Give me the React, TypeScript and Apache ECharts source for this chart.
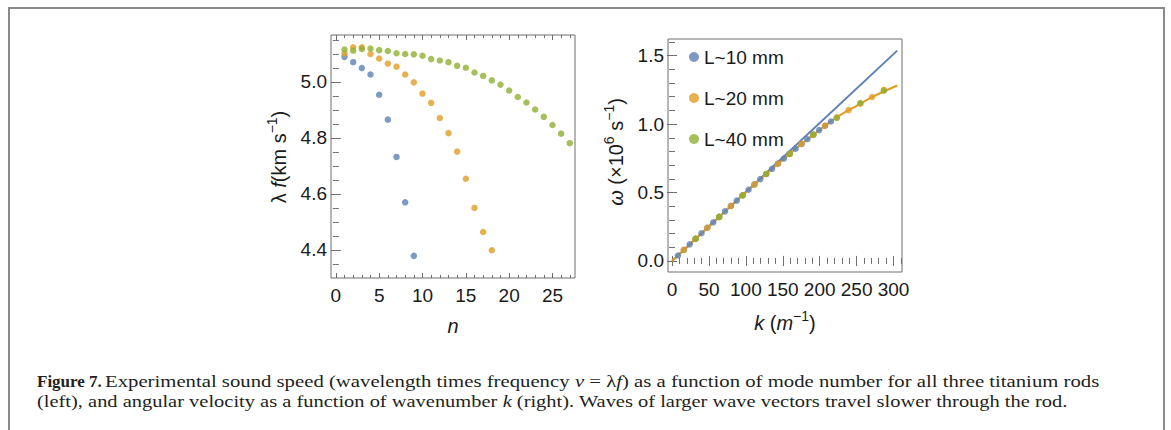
import React, { useEffect, useRef } from "react";
import * as echarts from "echarts";

// ---------- Left panel: λf vs mode number n ----------
const nBlue = [1, 2, 3, 4, 5, 6, 7, 8, 9];
const vBlue = [5.089, 5.07, 5.049, 5.026, 4.954, 4.865, 4.732, 4.57, 4.379];
const nOrange = [1, 2, 3, 4, 5, 6, 7, 8, 9, 10, 11, 12, 13, 14, 15, 16, 17, 18];
const vOrange = [5.101, 5.123, 5.123, 5.099, 5.083, 5.065, 5.054, 5.026, 4.998, 4.958, 4.925, 4.871, 4.817, 4.751, 4.654, 4.55, 4.464, 4.399];
const nGreen = [1, 2, 3, 4, 5, 6, 7, 8, 9, 10, 11, 12, 13, 14, 15, 16, 17, 18, 19, 20, 21, 22, 23, 24, 25, 26, 27];
const vGreen = [5.115, 5.111, 5.117, 5.119, 5.113, 5.11, 5.102, 5.099, 5.098, 5.093, 5.081, 5.076, 5.07, 5.057, 5.05, 5.033, 5.021, 5.005, 4.99, 4.969, 4.946, 4.926, 4.901, 4.875, 4.846, 4.815, 4.781];

// ---------- Right panel: ω vs k ----------
const kBlue = [7.97, 15.94, 23.91, 31.88, 39.85, 47.82, 55.79, 63.76, 71.73, 79.7, 87.67, 95.64, 103.61, 111.58, 119.55, 127.52, 135.49, 143.46, 151.43, 159.4, 167.37, 175.34, 183.31, 191.28, 199.25, 207.22, 215.19];
const wBlue = [0.04, 0.081, 0.121, 0.162, 0.202, 0.242, 0.282, 0.322, 0.362, 0.402, 0.441, 0.48, 0.52, 0.559, 0.598, 0.635, 0.673, 0.711, 0.748, 0.784, 0.82, 0.855, 0.889, 0.923, 0.956, 0.988, 1.019];
const kOrange = [15.94, 31.88, 47.82, 63.76, 79.7, 95.64, 111.58, 127.52, 143.46, 159.4, 175.34, 191.28, 207.22, 223.16, 239.1, 255.04, 270.98, 286.92];
const wOrange = [0.08, 0.162, 0.243, 0.322, 0.401, 0.48, 0.558, 0.635, 0.71, 0.782, 0.855, 0.922, 0.988, 1.05, 1.102, 1.149, 1.198, 1.25];
const kGreen = [31.88, 63.76, 95.64, 127.52, 159.4, 191.28, 223.16, 255.04, 286.92];
const wGreen = [0.161, 0.32, 0.478, 0.635, 0.782, 0.921, 1.045, 1.154, 1.244];
const lineBlueK = [0, 305];
const lineBlueW = [0, 1.537];
const lineOrangeK = [0, 25, 50, 75, 100, 125, 150, 175, 200, 225, 250, 275, 305];
const lineOrangeW = [0, 0.126, 0.253, 0.378, 0.502, 0.622, 0.739, 0.853, 0.958, 1.056, 1.134, 1.208, 1.282];

const seriesNames = ["L~10 mm", "L~20 mm", "L~40 mm"];

// ---------- Ticks ----------
const leftXMajor = [0, 5, 10, 15, 20, 25];
const leftXMinor = [1, 2, 3, 4, 6, 7, 8, 9, 11, 12, 13, 14, 16, 17, 18, 19, 21, 22, 23, 24, 26, 27];
const leftYMajor = [4.4, 4.6, 4.8, 5.0];
const leftYMinor = [4.35, 4.45, 4.5, 4.55, 4.65, 4.7, 4.75, 4.85, 4.9, 4.95, 5.05, 5.1, 5.15];
const rightXMajor = [0, 50, 100, 150, 200, 250, 300];
const rightXMinor = [10, 20, 30, 40, 60, 70, 80, 90, 110, 120, 130, 140, 160, 170, 180, 190, 210, 220, 230, 240, 260, 270, 280, 290, 310];
const rightYMajor = [0, 0.5, 1.0, 1.5];
const rightYMinor = [0.1, 0.2, 0.3, 0.4, 0.6, 0.7, 0.8, 0.9, 1.1, 1.2, 1.3, 1.4, 1.6];

const BLUE = "#5E81B5";
const ORANGE = "#E19C24";
const GREEN = "#8FB032";
const FRAME = "#6e6e6e";
const SANS = "Liberation Sans, Arial, sans-serif";
const SERIF = "Liberation Serif, Times New Roman, serif";

const zip = (a: number[], b: number[]) => a.map((v, i) => [v, b[i]]);

function makeAxes(
  dim: "x" | "y",
  grid: number,
  min: number,
  max: number,
  major: number[],
  minor: number[],
  fmt: (v: number) => string
) {
  const base = { type: "value", gridIndex: grid, min, max, splitLine: { show: false }, axisLine: { show: false } };
  const posA = dim === "x" ? "bottom" : "left";
  const posB = dim === "x" ? "top" : "right";
  const tick = (vals: number[], len: number) => ({
    show: true,
    inside: true,
    length: len,
    customValues: vals,
    lineStyle: { color: FRAME, width: 1 },
  });
  return [
    {
      ...base,
      position: posA,
      axisTick: tick(major, 5),
      axisLabel: {
        show: true,
        customValues: major,
        formatter: fmt,
        margin: dim === "x" ? 8 : 4,
        fontSize: 19,
        fontFamily: SANS,
        color: "#1a1a1a",
      },
    },
    { ...base, position: posA, axisTick: tick(minor, 3), axisLabel: { show: false } },
    { ...base, position: posB, axisTick: tick(major, 5), axisLabel: { show: false } },
    { ...base, position: posB, axisTick: tick(minor, 3), axisLabel: { show: false } },
  ];
}

export default function App() {
  const ref = useRef<HTMLDivElement>(null);
  useEffect(() => {
    if (!ref.current) return;
    const chart = echarts.init(ref.current, undefined, { renderer: "svg" });

    const xAxes = [
      ...makeAxes("x", 0, -0.56, 27.6, leftXMajor, leftXMinor, (v) => String(v)),
      ...makeAxes("x", 1, -5.5, 311.5, rightXMajor, rightXMinor, (v) => String(v)),
    ];
    const yAxes = [
      ...makeAxes("y", 0, 4.3, 5.167, leftYMajor, leftYMinor, (v) => v.toFixed(1)),
      ...makeAxes("y", 1, -0.081, 1.622, rightYMajor, rightYMinor, (v) => v.toFixed(1)),
    ];

    const scatter = (name: string, data: number[][], color: string, xi: number, yi: number) => ({
      type: "scatter",
      name,
      data,
      xAxisIndex: xi,
      yAxisIndex: yi,
      symbol: "circle",
      symbolSize: 6.5,
      itemStyle: { color },
      emphasis: { disabled: true },
      z: 3,
    });

    const nameStyle = { fontFamily: SANS, fontSize: 20, fill: "#1a1a1a" };
    const sup = { fontFamily: SANS, fontSize: 14, fill: "#1a1a1a", verticalAlign: "top", lineHeight: 14 };
    const base = { fontFamily: SANS, fontSize: 20, fill: "#1a1a1a", lineHeight: 28 };
    const ital = { ...base, fontStyle: "italic" };

    const capBase = { fontFamily: SERIF, fontSize: 17, fill: "#231f20" };
    const center = { align: "center", verticalAlign: "middle", textAlign: "center", textVerticalAlign: "middle" };
    const leftMid = { align: "left", verticalAlign: "middle", textAlign: "left", textVerticalAlign: "middle" };

    chart.setOption({
      animation: false,
      backgroundColor: "#ffffff",
      grid: [
        { left: 331, top: 35, width: 244, height: 243, show: true, borderColor: FRAME, borderWidth: 1, backgroundColor: "transparent" },
        { left: 668, top: 39, width: 234, height: 233, show: true, borderColor: FRAME, borderWidth: 1, backgroundColor: "transparent" },
      ],
      xAxis: xAxes,
      yAxis: yAxes,
      legend: {
        data: seriesNames,
        orient: "vertical",
        left: 689,
        top: 46,
        padding: 0,
        icon: "circle",
        itemWidth: 10,
        itemHeight: 10,
        itemGap: 19,
        itemTextGap: 10,
        selectedMode: false,
        textStyle: { fontFamily: SANS, fontSize: 19, color: "#1a1a1a", lineHeight: 22 },
      },
      series: [
        scatter(seriesNames[0], zip(nBlue, vBlue), BLUE, 0, 0),
        scatter(seriesNames[1], zip(nOrange, vOrange), ORANGE, 0, 0),
        scatter(seriesNames[2], zip(nGreen, vGreen), GREEN, 0, 0),
        {
          type: "line",
          data: zip(lineBlueK, lineBlueW),
          xAxisIndex: 4,
          yAxisIndex: 4,
          showSymbol: false,
          lineStyle: { color: BLUE, width: 2 },
          z: 2,
        },
        {
          type: "line",
          data: zip(lineOrangeK, lineOrangeW),
          xAxisIndex: 4,
          yAxisIndex: 4,
          showSymbol: false,
          smooth: 0.3,
          lineStyle: { color: ORANGE, width: 2 },
          z: 2,
        },
        scatter(seriesNames[0], zip(kBlue, wBlue), BLUE, 4, 4),
        scatter(seriesNames[1], zip(kOrange, wOrange), ORANGE, 4, 4),
        scatter(seriesNames[2], zip(kGreen, wGreen), GREEN, 4, 4),
      ],
      graphic: [
        {
          type: "polyline",
          shape: { points: [[9, 432], [9, 8], [1164, 8], [1164, 432]] },
          style: { stroke: "#8a8a8a", lineWidth: 2, fill: "none" },
          silent: true,
        },
        {
          type: "text",
          x: 453,
          y: 326,
          style: { ...nameStyle, fontStyle: "italic", text: "n", ...center },
        },
        {
          type: "text",
          x: 279,
          y: 157,
          rotation: Math.PI / 2,
          style: {
            text: "{a|λ }{i|f}{a|(km s}{s|−1}{a|)}",
            rich: { a: base, i: ital, s: sup },
            ...nameStyle,
            ...center,
          },
        },
        {
          type: "text",
          x: 616,
          y: 152,
          rotation: Math.PI / 2,
          style: {
            text: "{i|ω}{a| (×10}{s|6}{a| s}{s|−1}{a|)}",
            rich: { a: base, i: ital, s: sup },
            ...nameStyle,
            ...center,
          },
        },
        {
          type: "text",
          x: 785,
          y: 323,
          style: {
            text: "{i|k}{a| (}{i|m}{s|−1}{a|)}",
            rich: { a: base, i: ital, s: sup },
            ...nameStyle,
            ...center,
          },
        },
        {
          type: "text",
          x: 37,
          y: 381,
          style: { text: "Figure 7.", ...capBase, fontWeight: "bold", ...leftMid },
        },
        {
          type: "text",
          x: 105,
          y: 381,
          scaleX: 1.22,
          style: {
            text:
              "{a|Experimental sound speed (wavelength times frequency }{i|ν}{a| = λ}{i|f}{a|) as a function of mode number for all three titanium rods}",
            rich: { a: capBase, i: { ...capBase, fontStyle: "italic" } },
            ...capBase,
            ...leftMid,
          },
        },
        {
          type: "text",
          x: 37,
          y: 401,
          scaleX: 1.203,
          style: {
            text:
              "{a|(left), and angular velocity as a function of wavenumber }{i|k}{a| (right). Waves of larger wave vectors travel slower through the rod.}",
            rich: { a: capBase, i: { ...capBase, fontStyle: "italic" } },
            ...capBase,
            ...leftMid,
          },
        },
      ],
    });
    return () => chart.dispose();
  }, []);
  return <div ref={ref} style={{ position: "fixed", left: 0, top: 0, width: 1171, height: 430 }} />;
}
